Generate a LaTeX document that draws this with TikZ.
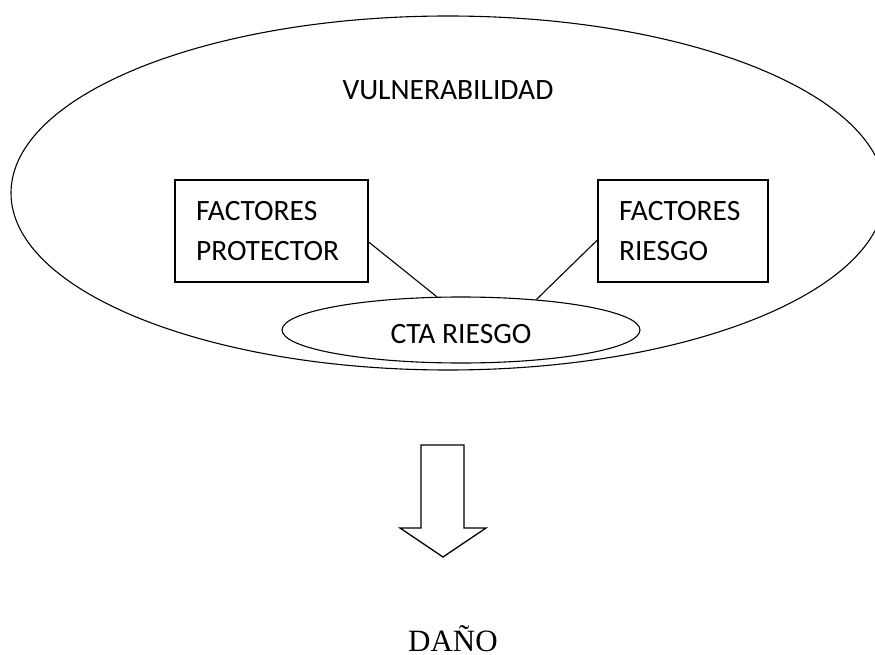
\documentclass[tikz,border=0pt]{standalone}
\usepackage{fontspec}
\setmainfont{Carlito}
\newfontfamily\danofont{Liberation Serif}
\usepackage{tikz}
\usetikzlibrary{shapes,arrows,positioning,calc,arrows.meta}

\tikzset{
    factorbox/.style={draw, rectangle, line width=1.3pt, minimum height=102pt,
        align=left, inner xsep=21pt, inner ysep=0pt},
    thinline/.style={line width=1.1pt}
}

\begin{document}
\begin{tikzpicture}[x=1pt, y=-1pt, font=\fontsize{29.5}{40}\selectfont]
    \useasboundingbox (0,0) rectangle (875,655);

    % Vulnerabilidad
    \node[draw, ellipse, thinline, minimum width=874pt, minimum height=354pt, inner sep=0pt] (vul) at (448,193) {};
    \node[anchor=base] (vultxt) at (448,100) {VULNERABILIDAD};

    % Factores
    \node[factorbox, minimum width=193pt, text width=151pt] (prot) at (271.5,231) {FACTORES\\PROTECTOR};
    \node[factorbox, minimum width=170pt, text width=128pt] (ries) at (683,231) {FACTORES\\RIESGO};

    % Conducta de riesgo
    \node[draw, ellipse, thinline, minimum width=358pt, minimum height=66pt, inner sep=0pt,
        text height=26pt, text depth=0pt] (cta) at (461,330) {CTA RIESGO};
    \draw[thinline] ([yshift=-11pt]prot.east) -- (cta.126);
    \draw[thinline] ([yshift=-9pt]ries.west) -- (cta.22);

    % Dano
    \draw[line width=1.3pt] (421,445) -- (464,445) -- (464,528) -- (486,528) -- (443,557)
        -- (400,528) -- (421,528) -- cycle;
    \node[anchor=base, inner sep=0pt, font=\danofont\fontsize{31}{31}\selectfont] (dano) at (453,651) {DAÑO};
\end{tikzpicture}
\end{document}
